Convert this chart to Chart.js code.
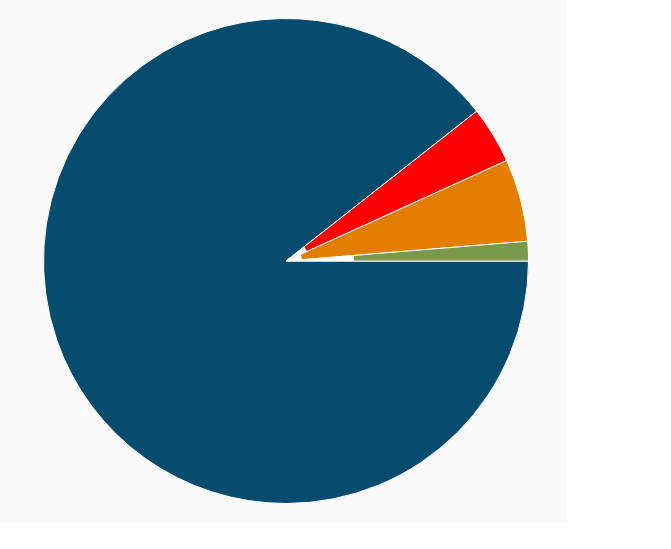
<!DOCTYPE html>
<html>
<head>
<meta charset="utf-8">
<script src="https://cdn.jsdelivr.net/npm/chart.js@4"></script>
<style>
  html, body { margin: 0; padding: 0; background: #ffffff; }
  #wrap { position: absolute; left: 0; top: 0; width: 567px; height: 522px; background: #fafafa; }
</style>
</head>
<body>
<div id="wrap"><canvas id="c" width="567" height="522"></canvas></div>
<script>
// Data
const categories = ["A", "B", "C", "D"];
const values = [89.4, 3.8, 5.5, 1.3];

// Styles
const colors = ["#074b6e", "#ff0000", "#e47e00", "#7b994a"];
const pieRadiusPx = 243;
// white cut-away at the tip of each slice (px from centre), a rendering style of the original
const tipCutPx = [0, 23, 16, 68];

const total = values.reduce((a, b) => a + b, 0);

new Chart(document.getElementById("c"), {
  type: "pie",
  data: {
    labels: categories,
    datasets: [
      {
        type: "pie",
        order: 1,
        data: values,
        backgroundColor: colors,
        borderColor: "#ffffff",
        borderWidth: 1
      },
      {
        type: "polarArea",
        order: 0,
        weight: 0,
        data: tipCutPx,
        backgroundColor: tipCutPx.map(v => v > 0 ? "#ffffff" : "rgba(0,0,0,0)"),
        borderWidth: 0,
        angle: (ctx) => values[ctx.dataIndex] / total * 360
      }
    ]
  },
  options: {
    responsive: false,
    animation: false,
    rotation: 90,
    events: [],
    layout: { padding: { top: 18, bottom: 18, left: 43, right: 38 } },
    scales: {
      r: {
        display: false,
        min: 0,
        max: pieRadiusPx,
        startAngle: 90
      }
    },
    plugins: { legend: { display: false }, tooltip: { enabled: false } }
  }
});
</script>
</body>
</html>
